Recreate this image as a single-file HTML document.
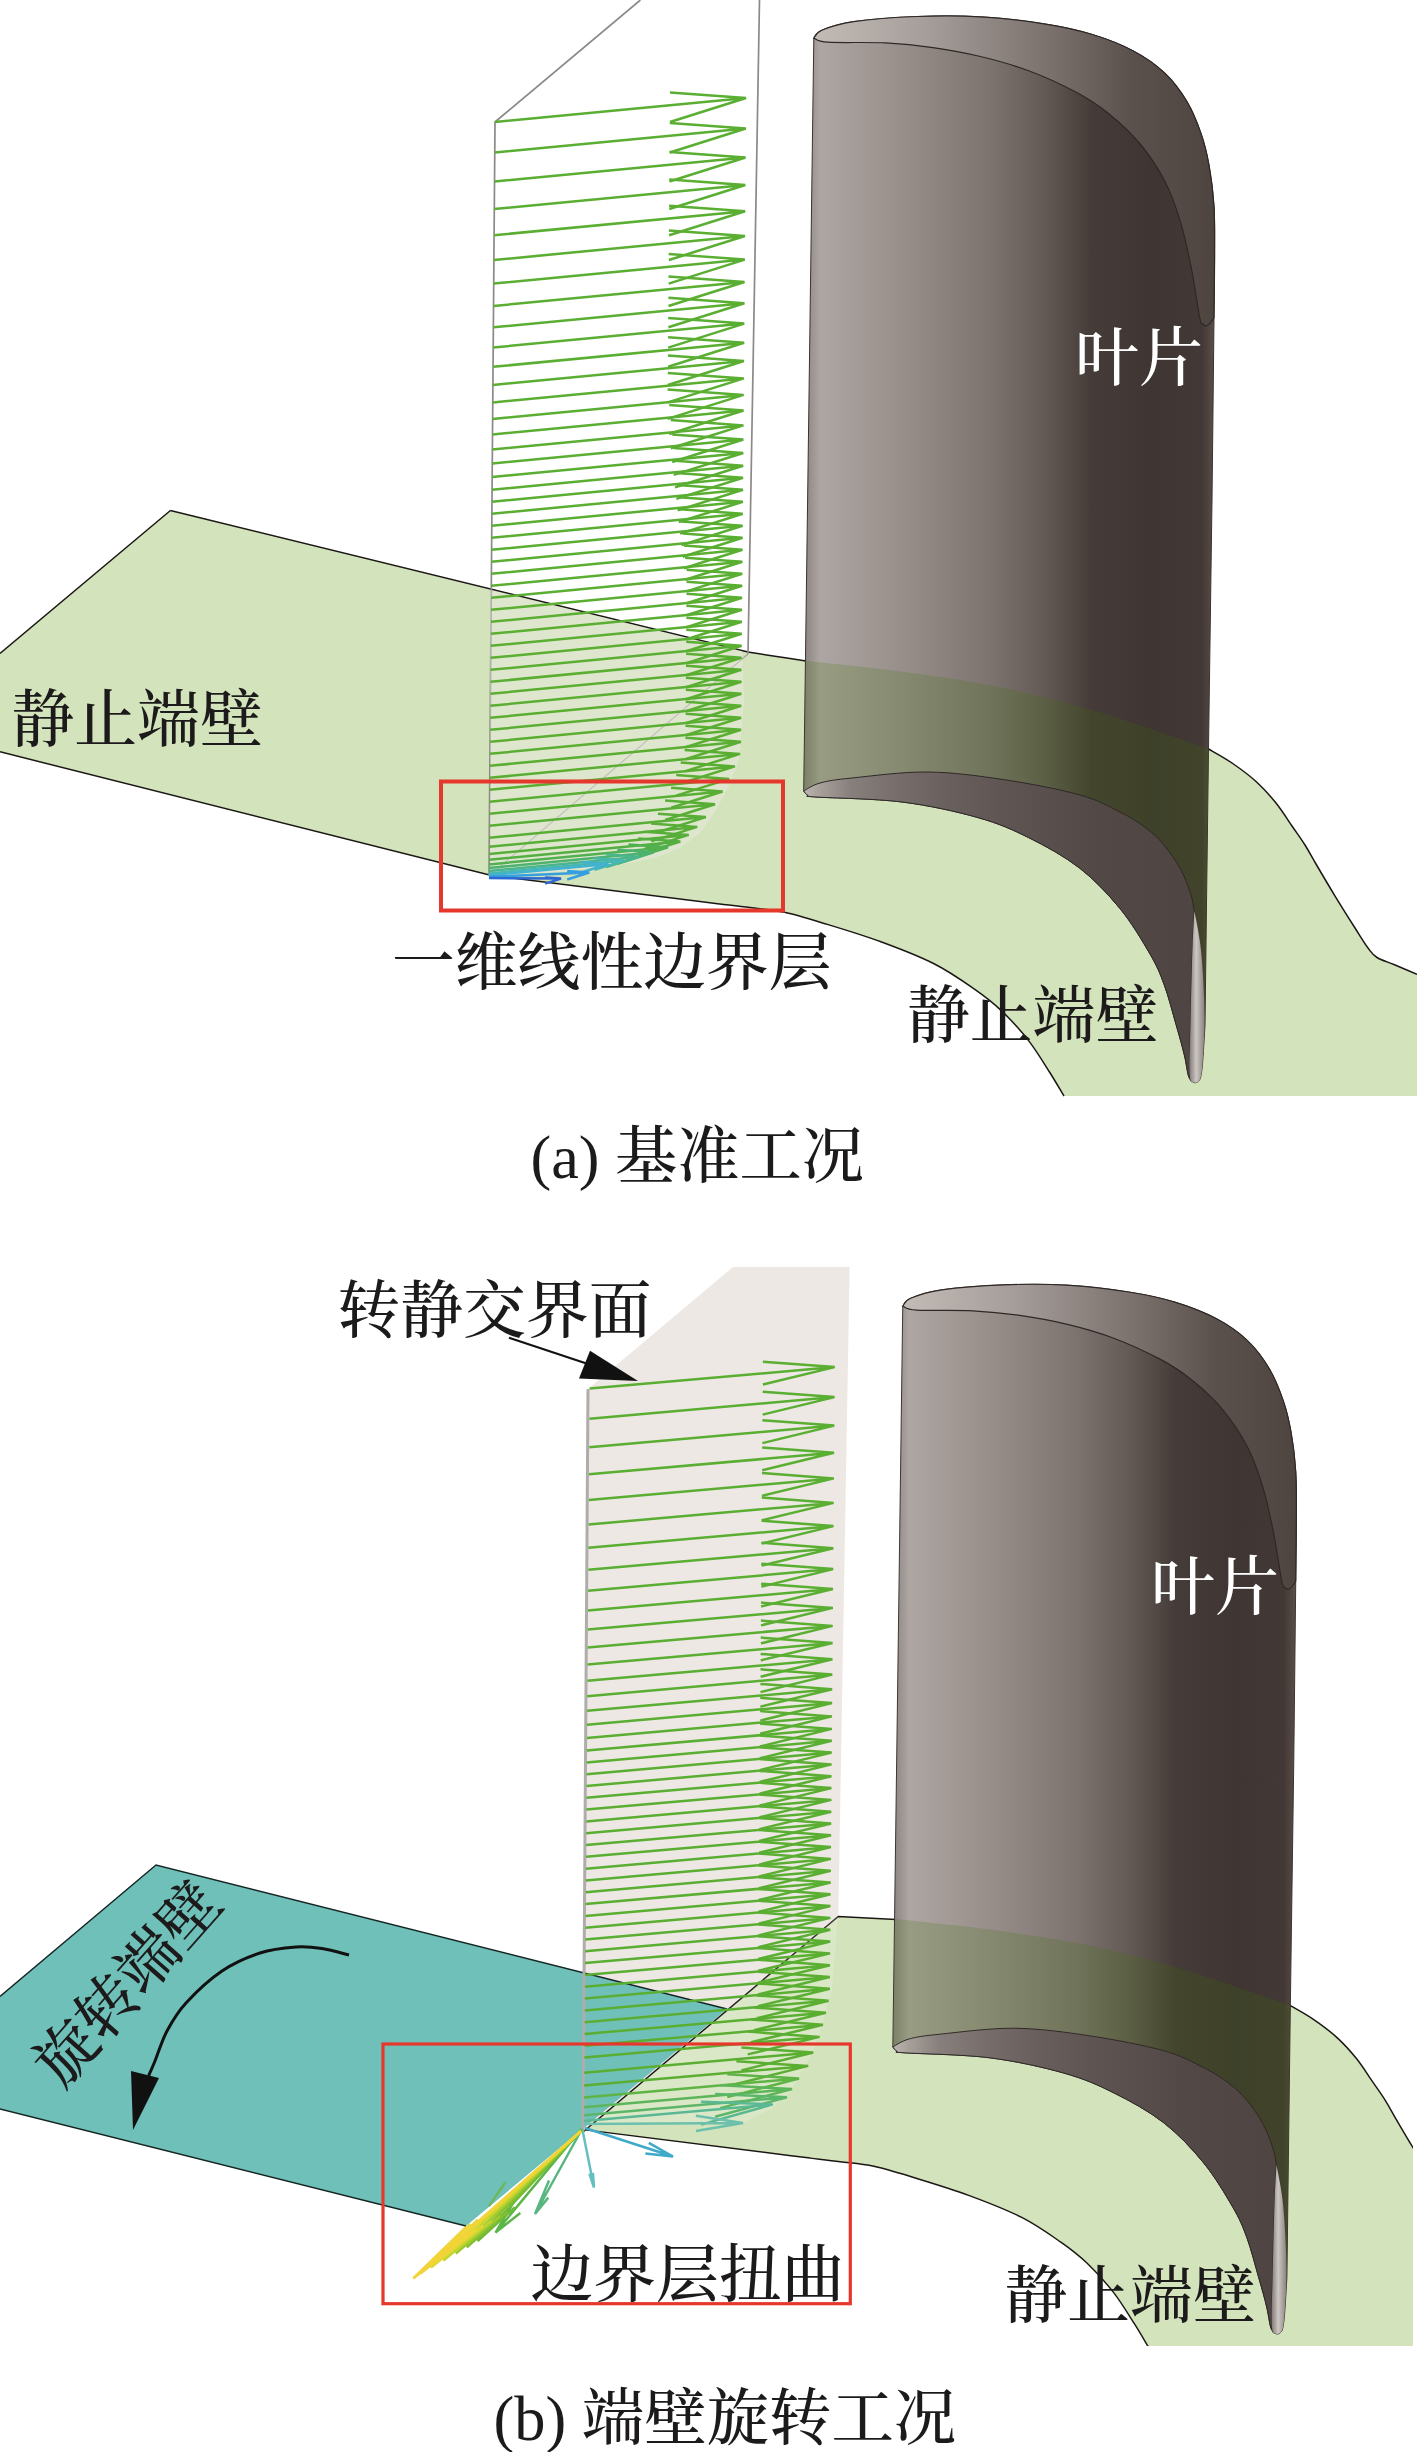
<!DOCTYPE html><html><head><meta charset="utf-8"><title>fig</title><style>html,body{margin:0;padding:0;background:#fff}svg{display:block}text{font-family:"Liberation Serif","Noto Serif CJK SC",serif;font-weight:500}</style></head><body>
<svg width="1417" height="2452" viewBox="0 0 1417 2452">
<defs><linearGradient id="gb" gradientUnits="userSpaceOnUse" x1="806" y1="0" x2="1214" y2="0"><stop offset="0" stop-color="#8e8783"/><stop offset="0.035" stop-color="#aea6a2"/><stop offset="0.25" stop-color="#968d89"/><stop offset="0.45" stop-color="#7d7470"/><stop offset="0.58" stop-color="#645b56"/><stop offset="0.70" stop-color="#453b38"/><stop offset="0.85" stop-color="#3f3533"/><stop offset="0.97" stop-color="#423835"/><stop offset="1" stop-color="#5a4f48"/></linearGradient>
<linearGradient id="gcap" gradientUnits="userSpaceOnUse" x1="806" y1="0" x2="1214" y2="0"><stop offset="0" stop-color="#c4bdb8"/><stop offset="0.3" stop-color="#a59d99"/><stop offset="0.6" stop-color="#7a716d"/><stop offset="0.8" stop-color="#5a504c"/><stop offset="1" stop-color="#4e4541"/></linearGradient>
<linearGradient id="glens" gradientUnits="userSpaceOnUse" x1="806" y1="0" x2="1214" y2="0"><stop offset="0" stop-color="#b8b1ad"/><stop offset="0.03" stop-color="#a8a19c"/><stop offset="0.11" stop-color="#877f7b"/><stop offset="0.23" stop-color="#766d6a"/><stop offset="0.35" stop-color="#69605d"/><stop offset="0.48" stop-color="#5f5653"/><stop offset="0.72" stop-color="#524845"/><stop offset="1" stop-color="#4e4441"/></linearGradient>
<linearGradient id="gte" gradientUnits="userSpaceOnUse" x1="1189" y1="0" x2="1205" y2="0"><stop offset="0" stop-color="#7d7571"/><stop offset="0.45" stop-color="#cdc7c4"/><stop offset="1" stop-color="#857d79"/></linearGradient>
<g id="blade">
<path d="M813.8 38.1C815.1 36.8 815.2 33.0 821.8 30.2 C828.4 27.4 837.6 23.9 853.5 21.6 C869.4 19.3 895.8 17.3 917.0 16.5 C938.2 15.7 959.3 15.6 980.5 16.8 C1001.7 18.0 1025.5 20.9 1044.0 23.8 C1062.5 26.7 1076.9 29.8 1091.7 34.3 C1106.5 38.8 1120.8 44.3 1133.0 50.8 C1145.2 57.2 1155.7 64.5 1164.7 73.0 C1173.7 81.5 1181.0 91.5 1187.0 101.6 C1193.0 111.7 1197.3 122.8 1201.0 133.4 C1204.7 144.0 1206.8 152.8 1209.0 165.0 C1211.2 177.2 1213.1 191.6 1214.0 206.4 C1214.9 221.2 1214.6 235.5 1214.6 254.0 C1214.6 272.5 1214.1 307.0 1214.0 317.6L1212.0 500.0 L1208.5 749.0 L1206.5 904.0 L1205.0 1025.4 C1204.6 1032.1 1203.2 1056.5 1202.4 1065.4 C1201.6 1074.3 1200.7 1076.5 1200.4 1078.7 Q1196.5 1085 1192.4 1081.7 C1191.7 1080.7 1189.7 1080.0 1188.4 1075.6 C1187.1 1071.2 1186.4 1063.7 1184.4 1055.3 C1182.4 1046.9 1179.7 1037.1 1176.3 1025.4 C1172.9 1013.7 1168.7 996.9 1164.3 985.0 C1159.9 973.1 1157.4 966.7 1150.0 954.0 C1142.6 941.3 1131.8 922.9 1120.0 908.6 C1108.2 894.3 1094.7 879.8 1079.5 868.0 C1064.3 856.2 1045.9 846.2 1029.0 837.8 C1012.1 829.4 999.2 823.6 978.0 817.6 C956.8 811.6 929.0 805.4 902.0 802.0 C875.0 798.6 831.7 798.1 816.0 797.0 C800.3 795.9 810.0 796.5 808.0 795.5 C806.0 794.5 804.4 791.8 803.7 791.0Z" fill="url(#gb)" stroke="#3a3330" stroke-width="1"/>
<path d="M813.8 38.1C815.1 36.8 815.2 33.0 821.8 30.2 C828.4 27.4 837.6 23.9 853.5 21.6 C869.4 19.3 895.8 17.3 917.0 16.5 C938.2 15.7 959.3 15.6 980.5 16.8 C1001.7 18.0 1025.5 20.9 1044.0 23.8 C1062.5 26.7 1076.9 29.8 1091.7 34.3 C1106.5 38.8 1120.8 44.3 1133.0 50.8 C1145.2 57.2 1155.7 64.5 1164.7 73.0 C1173.7 81.5 1181.0 91.5 1187.0 101.6 C1193.0 111.7 1197.3 122.8 1201.0 133.4 C1204.7 144.0 1206.8 152.8 1209.0 165.0 C1211.2 177.2 1213.1 191.6 1214.0 206.4 C1214.9 221.2 1214.6 235.5 1214.6 254.0 C1214.6 272.5 1214.1 307.0 1214.0 317.6L1212.5 320.0 Q1207 329 1202.8 324 C1202.3 322.9 1201.5 326.6 1199.7 317.6 C1197.9 308.6 1194.9 285.9 1191.7 270.0 C1188.5 254.1 1185.1 237.1 1180.6 222.3 C1176.1 207.5 1171.6 194.2 1164.7 181.0 C1157.8 167.8 1148.8 154.4 1139.3 143.0 C1129.8 131.6 1118.2 121.2 1107.6 112.7 C1097.0 104.2 1089.1 99.0 1075.8 92.0 C1062.5 85.0 1043.9 76.4 1028.0 70.5 C1012.1 64.6 996.3 60.3 980.5 56.5 C964.7 52.7 948.9 49.9 933.0 47.6 C917.1 45.3 902.8 43.8 885.3 42.9 C867.8 42.0 839.9 43.0 828.0 42.2 C816.1 41.4 816.2 38.8 813.8 38.1Z" fill="url(#gcap)" stroke="#2e2826" stroke-width="1.2"/>
<path d="M806.0 661.0C822.5 662.8 872.0 667.5 905.0 672.0 C938.0 676.5 970.7 681.0 1004.0 688.0 C1037.3 695.0 1070.9 703.8 1105.0 714.0 C1139.1 724.2 1191.2 743.2 1208.5 749.0L1206.5 904.0L1205.0 1025.4 C1204.3 1018.7 1204.2 998.4 1203.5 985.0 C1202.8 971.6 1201.9 957.3 1200.4 945.0 C1198.9 932.7 1195.4 916.7 1194.4 911.0 C1193.7 908.0 1192.7 899.9 1190.4 892.9 C1188.1 885.9 1184.8 876.7 1180.4 868.8 C1176.1 860.9 1170.0 852.3 1164.3 845.5 C1158.6 838.7 1153.4 833.6 1146.0 828.0 C1138.6 822.4 1131.1 817.5 1120.0 812.0 C1108.9 806.5 1098.9 800.2 1079.5 794.8 C1060.1 789.4 1028.9 783.4 1003.6 779.6 C978.3 775.8 953.0 772.3 927.7 772.0 C902.4 771.7 870.0 776.2 852.0 778.0 C834.0 779.8 828.0 780.8 820.0 783.0 C812.0 785.2 806.4 789.7 803.7 791.0Z" fill="#3e7600" fill-opacity="0.195"/>
<path d="M803.7 791.0C806.4 789.7 812.0 785.2 820.0 783.0 C828.0 780.8 834.0 779.8 852.0 778.0 C870.0 776.2 902.4 771.7 927.7 772.0 C953.0 772.3 978.3 775.8 1003.6 779.6 C1028.9 783.4 1060.1 789.4 1079.5 794.8 C1098.9 800.2 1108.9 806.5 1120.0 812.0 C1131.1 817.5 1138.6 822.4 1146.0 828.0 C1153.4 833.6 1158.6 838.7 1164.3 845.5 C1170.0 852.3 1176.1 860.9 1180.4 868.8 C1184.8 876.7 1188.1 885.9 1190.4 892.9 C1192.7 899.9 1193.7 908.0 1194.4 911.0 C1194.1 916.7 1193.1 932.7 1192.6 945.0 C1192.1 957.3 1191.8 971.6 1191.4 985.0 C1191.0 998.4 1190.7 1012.0 1190.4 1025.4 C1190.1 1038.8 1189.4 1056.4 1189.4 1065.4 C1189.4 1074.5 1189.9 1077.0 1190.4 1079.7 C1190.9 1082.4 1192.1 1081.4 1192.4 1081.7 C1191.7 1080.7 1189.7 1080.0 1188.4 1075.6 C1187.1 1071.2 1186.4 1063.7 1184.4 1055.3 C1182.4 1046.9 1179.7 1037.1 1176.3 1025.4 C1172.9 1013.7 1168.7 996.9 1164.3 985.0 C1159.9 973.1 1157.4 966.7 1150.0 954.0 C1142.6 941.3 1131.8 922.9 1120.0 908.6 C1108.2 894.3 1094.7 879.8 1079.5 868.0 C1064.3 856.2 1045.9 846.2 1029.0 837.8 C1012.1 829.4 999.2 823.6 978.0 817.6 C956.8 811.6 929.0 805.4 902.0 802.0 C875.0 798.6 831.7 798.1 816.0 797.0 C800.3 795.9 810.0 796.5 808.0 795.5 C806.0 794.5 804.4 791.8 803.7 791.0Z" fill="url(#glens)" stroke="#2e2826" stroke-width="1"/>
<path d="M1194.4 911.0C1195.4 916.7 1198.9 932.7 1200.4 945.0 C1201.9 957.3 1202.8 971.6 1203.5 985.0 C1204.2 998.4 1204.7 1012.0 1204.5 1025.4 C1204.3 1038.8 1203.1 1056.5 1202.4 1065.4 C1201.7 1074.3 1200.7 1076.5 1200.4 1078.7 Q1196.5 1085 1192.4 1081.7 C1192.1 1081.4 1190.9 1082.4 1190.4 1079.7 C1189.9 1077.0 1189.4 1074.5 1189.4 1065.4 C1189.4 1056.4 1190.1 1038.8 1190.4 1025.4 C1190.7 1012.0 1191.0 998.4 1191.4 985.0 C1191.8 971.6 1192.1 957.3 1192.6 945.0 C1193.1 932.7 1194.1 916.7 1194.4 911.0Z" fill="url(#gte)"/>
</g></defs>
<rect width="1417" height="2452" fill="#fff"/>
<path d="M170.4 510.5L748.0 652.0 C753.3 652.8 770.3 655.5 780.0 657.0 C789.7 658.5 801.7 660.3 806.0 661.0 C822.5 662.8 872.0 667.5 905.0 672.0 C938.0 676.5 970.7 681.0 1004.0 688.0 C1037.3 695.0 1070.9 703.8 1105.0 714.0 C1139.1 724.2 1191.2 743.2 1208.5 749.0 C1212.4 751.3 1224.0 757.5 1232.0 763.0 C1240.0 768.5 1249.3 775.3 1256.6 782.0 C1263.9 788.7 1270.1 795.7 1276.0 803.0 C1281.9 810.3 1287.2 819.0 1292.0 826.0 C1296.8 833.0 1301.0 838.7 1305.0 845.0 C1309.0 851.3 1311.1 855.6 1316.0 864.0 C1320.9 872.4 1328.2 884.8 1334.6 895.3 C1341.0 905.8 1348.8 918.2 1354.4 927.0 C1360.0 935.8 1364.2 942.9 1368.0 948.0 C1371.8 953.1 1372.7 954.8 1377.0 957.5 C1381.3 960.2 1387.2 961.7 1393.9 964.5 C1400.6 967.3 1413.2 972.8 1417.0 974.4L1500.0 1000.0L1500.0 1096.0L1063.3 1096.0 C1061.6 1092.1 1055.7 1081.8 1049.8 1072.5 C1043.9 1063.2 1036.4 1050.7 1028.4 1040.4 C1020.4 1030.1 1010.5 1019.4 1001.6 1010.9 C992.7 1002.4 986.0 997.2 974.8 989.4 C963.6 981.6 950.1 971.9 934.5 964.0 C918.9 956.1 898.8 948.4 880.9 941.8 C863.0 935.2 843.4 929.3 827.3 924.4 C811.2 919.5 797.3 915.1 784.4 912.3 C771.5 909.5 760.7 909.0 750.0 907.6 C739.3 906.2 728.3 905.0 720.0 904.0 C711.7 903.0 703.3 901.9 700.0 901.5L490.5 875.3L0.0 751.8L0.0 653.4Z" fill="#d3e3bb"/>
<path d="M170.4 510.5L748.0 652.0 C753.3 652.8 770.3 655.5 780.0 657.0 C789.7 658.5 801.7 660.3 806.0 661.0 C822.5 662.8 872.0 667.5 905.0 672.0 C938.0 676.5 970.7 681.0 1004.0 688.0 C1037.3 695.0 1070.9 703.8 1105.0 714.0 C1139.1 724.2 1191.2 743.2 1208.5 749.0 C1212.4 751.3 1224.0 757.5 1232.0 763.0 C1240.0 768.5 1249.3 775.3 1256.6 782.0 C1263.9 788.7 1270.1 795.7 1276.0 803.0 C1281.9 810.3 1287.2 819.0 1292.0 826.0 C1296.8 833.0 1301.0 838.7 1305.0 845.0 C1309.0 851.3 1311.1 855.6 1316.0 864.0 C1320.9 872.4 1328.2 884.8 1334.6 895.3 C1341.0 905.8 1348.8 918.2 1354.4 927.0 C1360.0 935.8 1364.2 942.9 1368.0 948.0 C1371.8 953.1 1372.7 954.8 1377.0 957.5 C1381.3 960.2 1387.2 961.7 1393.9 964.5 C1400.6 967.3 1413.2 972.8 1417.0 974.4 M0.0 751.8L490.5 875.3L700.0 901.5 C703.3 901.9 711.7 903.0 720.0 904.0 C728.3 905.0 739.3 906.2 750.0 907.6 C760.7 909.0 771.5 909.5 784.4 912.3 C797.3 915.1 811.2 919.5 827.3 924.4 C843.4 929.3 863.0 935.2 880.9 941.8 C898.8 948.4 918.9 956.1 934.5 964.0 C950.1 971.9 963.6 981.6 974.8 989.4 C986.0 997.2 992.7 1002.4 1001.6 1010.9 C1010.5 1019.4 1020.4 1030.1 1028.4 1040.4 C1036.4 1050.7 1043.9 1063.2 1049.8 1072.5 C1055.7 1081.8 1061.6 1092.1 1064.0 1096.0 M0 653.4 L170.4 510.5" fill="none" stroke="#1a1714" stroke-width="1.5"/>
<path d="M489 876 L495 122 L640.4 0 M759.5 0 L748 654" fill="none" stroke="#8e8888" stroke-width="1.7"/><path d="M748 654 L489 876" fill="none" stroke="#a89ea6" stroke-width="1.2"/>
<path d="M490 590 L742 651 L744 700 L739 760 L727 790 L715 812 L701 832 L680 848 L655 858 L612 866 L556 872 L490 877Z" fill="#f1ede9" fill-opacity="0.4"/>
<g fill="none" stroke-width="2.5" stroke-linejoin="miter" stroke-linecap="butt">
<path d="M495.0 122.0 L746.0 98.0 M670.0 92.5 L746.0 98.0 L670.0 122.0" stroke="#5aae32"/>
<path d="M494.8 152.5 L745.8 128.5 M669.8 123.0 L745.8 128.5 L669.8 152.5" stroke="#5aae32"/>
<path d="M494.5 181.5 L745.5 157.5 M669.5 152.0 L745.5 157.5 L669.5 181.5" stroke="#5aae32"/>
<path d="M494.3 209.0 L745.3 185.0 M669.3 179.5 L745.3 185.0 L669.3 209.0" stroke="#5aae32"/>
<path d="M494.1 235.2 L745.1 211.2 M669.1 205.7 L745.1 211.2 L669.1 235.2" stroke="#5aae32"/>
<path d="M493.9 260.0 L744.9 236.0 M668.9 230.5 L744.9 236.0 L668.9 260.0" stroke="#5aae32"/>
<path d="M493.7 283.6 L744.7 259.6 M668.7 254.1 L744.7 259.6 L668.7 283.6" stroke="#5aae32"/>
<path d="M493.5 306.0 L744.5 282.0 M668.5 276.5 L744.5 282.0 L668.5 306.0" stroke="#5aae32"/>
<path d="M493.4 327.3 L744.4 303.3 M668.4 297.8 L744.4 303.3 L668.4 327.3" stroke="#5aae32"/>
<path d="M493.2 347.5 L744.2 323.6 M668.2 318.1 L744.2 323.6 L668.2 347.6" stroke="#5aae32"/>
<path d="M493.1 366.8 L744.1 342.8 M668.1 337.3 L744.1 342.8 L668.1 366.8" stroke="#5aae32"/>
<path d="M492.9 385.0 L743.9 361.0 M667.9 355.5 L743.9 361.0 L667.9 385.0" stroke="#5aae32"/>
<path d="M492.8 402.4 L743.8 378.4 M667.8 372.9 L743.8 378.4 L667.8 402.4" stroke="#5aae32"/>
<path d="M492.6 418.9 L743.6 394.9 M667.6 389.4 L743.6 394.9 L667.6 418.9" stroke="#5aae32"/>
<path d="M492.5 434.5 L743.5 410.5 M669.2 405.1 L743.5 410.5 L669.2 434.0" stroke="#5aae32"/>
<path d="M492.4 449.4 L743.4 425.4 M670.7 420.1 L743.4 425.4 L670.7 448.3" stroke="#5aae32"/>
<path d="M492.3 463.5 L743.3 439.5 M672.2 434.4 L743.3 439.5 L672.2 462.0" stroke="#5aae32"/>
<path d="M492.2 476.9 L743.2 453.0 M673.7 447.9 L743.2 453.0 L673.7 474.9" stroke="#5aae32"/>
<path d="M492.1 489.7 L743.1 465.7 M675.0 460.8 L743.1 465.7 L675.0 487.2" stroke="#5aae32"/>
<path d="M492.0 501.8 L743.0 477.8 M676.3 473.0 L743.0 477.8 L676.3 498.9" stroke="#5aae32"/>
<path d="M491.9 513.8 L742.9 489.8 M677.6 485.1 L742.9 489.8 L677.6 510.4" stroke="#5aae32"/>
<path d="M491.8 525.8 L742.8 501.8 M678.8 497.2 L742.8 501.8 L678.8 522.0" stroke="#5aae32"/>
<path d="M491.7 537.8 L742.7 513.8 M680.1 509.3 L742.7 513.8 L680.1 533.6" stroke="#5aae32"/>
<path d="M491.6 549.8 L742.6 525.8 M681.4 521.4 L742.6 525.8 L681.4 545.1" stroke="#5aae32"/>
<path d="M491.5 561.8 L742.5 537.8 M682.7 533.5 L742.5 537.8 L682.7 556.7" stroke="#5aae32"/>
<path d="M491.4 573.8 L742.4 549.8 M683.9 545.6 L742.4 549.8 L683.9 568.3" stroke="#5aae32"/>
<path d="M491.3 585.8 L742.3 561.8 M685.2 557.7 L742.3 561.8 L685.2 579.8" stroke="#5aae32"/>
<path d="M491.2 597.8 L742.2 573.8 M686.5 569.8 L742.2 573.8 L686.5 591.4" stroke="#5aae32"/>
<path d="M491.1 609.8 L742.1 585.8 M686.6 581.8 L742.1 585.8 L686.6 603.3" stroke="#5aae32"/>
<path d="M491.0 621.8 L742.0 597.8 M686.5 593.8 L742.0 597.8 L686.5 615.3" stroke="#5aae32"/>
<path d="M490.9 633.8 L741.9 609.8 M686.4 605.8 L741.9 609.8 L686.4 627.3" stroke="#5aae32"/>
<path d="M490.8 645.8 L741.8 621.8 M686.4 617.8 L741.8 621.8 L686.4 639.3" stroke="#5aae32"/>
<path d="M490.7 657.8 L741.7 633.8 M686.3 629.8 L741.7 633.8 L686.3 651.3" stroke="#5aae32"/>
<path d="M490.6 669.8 L741.6 645.8 M686.2 641.8 L741.6 645.8 L686.2 663.3" stroke="#5aae32"/>
<path d="M490.5 681.8 L741.5 657.8 M686.1 653.8 L741.5 657.8 L686.1 675.3" stroke="#5aae32"/>
<path d="M490.4 693.8 L741.4 669.8 M686.0 665.8 L741.4 669.8 L686.0 687.3" stroke="#5aae32"/>
<path d="M490.4 705.8 L741.4 681.8 M685.9 677.8 L741.4 681.8 L685.9 699.3" stroke="#5aae32"/>
<path d="M490.3 717.8 L741.3 693.8 M685.8 689.8 L741.3 693.8 L685.8 711.3" stroke="#5aae32"/>
<path d="M490.2 729.8 L741.2 705.8 M685.7 701.8 L741.2 705.8 L685.7 723.3" stroke="#5aae32"/>
<path d="M490.1 741.8 L741.1 717.8 M685.6 713.8 L741.1 717.8 L685.6 735.3" stroke="#5aae32"/>
<path d="M490.0 753.8 L741.0 729.8 M685.5 725.8 L741.0 729.8 L685.5 747.3" stroke="#5aae32"/>
<path d="M489.9 765.8 L740.9 741.8 M685.4 737.8 L740.9 741.8 L685.4 759.3" stroke="#5aae32"/>
<path d="M489.8 777.8 L740.0 753.9 M684.7 749.9 L740.0 753.9 L684.7 771.4" stroke="#59ae32"/>
<path d="M489.7 789.8 L734.9 766.4 M680.7 762.5 L734.9 766.4 L680.7 783.5" stroke="#59ae32"/>
<path d="M489.6 801.8 L729.2 778.9 M676.2 775.1 L729.2 778.9 L676.2 795.6" stroke="#59ae33"/>
<path d="M489.5 813.8 L722.6 791.5 M671.1 787.8 L722.6 791.5 L671.1 807.8" stroke="#59ae34"/>
<path d="M489.4 825.8 L715.0 804.2 M665.1 800.6 L715.0 804.2 L665.1 820.0" stroke="#58ae35"/>
<path d="M489.3 837.8 L705.8 817.1 M657.9 813.7 L705.8 817.1 L657.9 832.2" stroke="#58ae36"/>
<path d="M489.2 846.8 L697.2 826.9 M651.2 823.6 L697.2 826.9 L651.2 841.4" stroke="#58ae37"/>
<path d="M489.2 854.0 L688.7 834.9 M644.6 831.7 L688.7 834.9 L644.6 848.9" stroke="#57ae39"/>
<path d="M489.1 859.8 L680.3 841.5 M638.1 838.4 L680.3 841.5 L638.1 854.8" stroke="#54af43"/>
<path d="M489.1 864.4 L668.0 847.3 M628.4 844.4 L668.0 847.3 L628.4 859.8" stroke="#51b151"/>
<path d="M489.1 868.1 L653.7 852.3 M617.3 849.7 L653.7 852.3 L617.3 863.8" stroke="#4db26d"/>
<path d="M489.0 871.0 L639.3 856.7 M606.1 854.3 L639.3 856.7 L606.1 867.1" stroke="#4ab48c"/>
<path d="M489.0 873.4 L624.4 860.4 M594.5 858.3 L624.4 860.4 L594.5 869.9" stroke="#47b7b0"/>
<path d="M489.0 875.3 L608.3 863.9 M581.9 862.0 L608.3 863.9 L581.9 872.2" stroke="#42b2ce"/>
<path d="M489.0 876.8 L589.3 872.5 M567.2 870.9 L589.3 872.5 L567.2 879.5" stroke="#369fe0"/>
<path d="M489.0 878.0 L561.0 878.6 M545.1 877.4 L561.0 878.6 L545.1 883.6" stroke="#2d67d1"/>
</g>
<use href="#blade"/>
<rect x="441" y="781.5" width="342" height="129" fill="none" stroke="#e6372c" stroke-width="4"/>
<text x="1075.0" y="380.0" font-size="64" fill="#ffffff">叶片</text>
<text x="11.5" y="741.0" font-size="62.8" fill="#1c1a1a">静止端壁</text>
<text x="392.0" y="984.0" font-size="62.8" fill="#1c1a1a">一维线性边界层</text>
<text x="907.0" y="1037.0" font-size="62.8" fill="#1c1a1a">静止端壁</text>
<text x="530.5" y="1178.0" font-size="62.2" fill="#1c1a1a">(a) 基准工况</text>
<path d="M733 1267 L849.6 1267 L838.3 1916.4 L583 2132 L588 1389Z" fill="#ede8e3"/>
<clipPath id="cpb"><path d="M838.3 1916.4 L896 1919.6 L896 1800 L1413 1800 L1413 2346 L331 2346 Z"/></clipPath>
<g clip-path="url(#cpb)"><g transform="translate(103.6,1268.6) scale(0.982,0.984)"><path d="M170.4 510.5L748.0 652.0 C753.3 652.8 770.3 655.5 780.0 657.0 C789.7 658.5 801.7 660.3 806.0 661.0 C822.5 662.8 872.0 667.5 905.0 672.0 C938.0 676.5 970.7 681.0 1004.0 688.0 C1037.3 695.0 1070.9 703.8 1105.0 714.0 C1139.1 724.2 1191.2 743.2 1208.5 749.0 C1212.4 751.3 1224.0 757.5 1232.0 763.0 C1240.0 768.5 1249.3 775.3 1256.6 782.0 C1263.9 788.7 1270.1 795.7 1276.0 803.0 C1281.9 810.3 1287.2 819.0 1292.0 826.0 C1296.8 833.0 1301.0 838.7 1305.0 845.0 C1309.0 851.3 1311.1 855.6 1316.0 864.0 C1320.9 872.4 1328.2 884.8 1334.6 895.3 C1341.0 905.8 1348.8 918.2 1354.4 927.0 C1360.0 935.8 1364.2 942.9 1368.0 948.0 C1371.8 953.1 1372.7 954.8 1377.0 957.5 C1381.3 960.2 1387.2 961.7 1393.9 964.5 C1400.6 967.3 1413.2 972.8 1417.0 974.4L1500.0 1000.0L1500.0 1096.0L1063.3 1096.0 C1061.6 1092.1 1055.7 1081.8 1049.8 1072.5 C1043.9 1063.2 1036.4 1050.7 1028.4 1040.4 C1020.4 1030.1 1010.5 1019.4 1001.6 1010.9 C992.7 1002.4 986.0 997.2 974.8 989.4 C963.6 981.6 950.1 971.9 934.5 964.0 C918.9 956.1 898.8 948.4 880.9 941.8 C863.0 935.2 843.4 929.3 827.3 924.4 C811.2 919.5 797.3 915.1 784.4 912.3 C771.5 909.5 760.7 909.0 750.0 907.6 C739.3 906.2 728.3 905.0 720.0 904.0 C711.7 903.0 703.3 901.9 700.0 901.5L490.5 875.3L0.0 751.8L0.0 653.4Z" fill="#d3e3bb"/><path d="M170.4 510.5L748.0 652.0 C753.3 652.8 770.3 655.5 780.0 657.0 C789.7 658.5 801.7 660.3 806.0 661.0 C822.5 662.8 872.0 667.5 905.0 672.0 C938.0 676.5 970.7 681.0 1004.0 688.0 C1037.3 695.0 1070.9 703.8 1105.0 714.0 C1139.1 724.2 1191.2 743.2 1208.5 749.0 C1212.4 751.3 1224.0 757.5 1232.0 763.0 C1240.0 768.5 1249.3 775.3 1256.6 782.0 C1263.9 788.7 1270.1 795.7 1276.0 803.0 C1281.9 810.3 1287.2 819.0 1292.0 826.0 C1296.8 833.0 1301.0 838.7 1305.0 845.0 C1309.0 851.3 1311.1 855.6 1316.0 864.0 C1320.9 872.4 1328.2 884.8 1334.6 895.3 C1341.0 905.8 1348.8 918.2 1354.4 927.0 C1360.0 935.8 1364.2 942.9 1368.0 948.0 C1371.8 953.1 1372.7 954.8 1377.0 957.5 C1381.3 960.2 1387.2 961.7 1393.9 964.5 C1400.6 967.3 1413.2 972.8 1417.0 974.4 M0.0 751.8L490.5 875.3L700.0 901.5 C703.3 901.9 711.7 903.0 720.0 904.0 C728.3 905.0 739.3 906.2 750.0 907.6 C760.7 909.0 771.5 909.5 784.4 912.3 C797.3 915.1 811.2 919.5 827.3 924.4 C843.4 929.3 863.0 935.2 880.9 941.8 C898.8 948.4 918.9 956.1 934.5 964.0 C950.1 971.9 963.6 981.6 974.8 989.4 C986.0 997.2 992.7 1002.4 1001.6 1010.9 C1010.5 1019.4 1020.4 1030.1 1028.4 1040.4 C1036.4 1050.7 1043.9 1063.2 1049.8 1072.5 C1055.7 1081.8 1061.6 1092.1 1064.0 1096.0 M0 653.4 L170.4 510.5" fill="none" stroke="#1a1714" stroke-width="1.5"/></g></g>
<path d="M156 1865 L727 2009 L466 2226 L0 2109 L0 1996.5Z" fill="#70c0ba"/><path d="M0 1996.5 L156 1865 L727 2009 M466 2226 L0 2109" fill="none" stroke="#152524" stroke-width="1.4"/>
<path d="M896 1919.6 L838.3 1916.4 L583 2132" stroke="#1a1714" stroke-width="1.5" fill="none"/>
<path d="M588 1389 L583 2131" stroke="#b0acac" stroke-width="3" fill="none"/>
<path d="M838 1916 L832 1990 L826 2010 L819 2036 L811 2055 L800 2075 L790 2091 L774 2107 L743 2123 L592 2126Z" fill="#fff" fill-opacity="0.18"/>
<g fill="none" stroke-width="2.5" stroke-linejoin="miter" stroke-linecap="butt">
<path d="M589.7 1388.6 L834.7 1367.1 M762.9 1361.8 L834.7 1367.1 L762.9 1384.5" stroke="#5aae32"/>
<path d="M589.5 1418.7 L834.5 1397.1 M762.7 1391.8 L834.5 1397.1 L762.7 1414.6" stroke="#5aae32"/>
<path d="M589.2 1447.2 L834.2 1425.6 M762.4 1420.3 L834.2 1425.6 L762.4 1443.1" stroke="#5aae32"/>
<path d="M589.0 1474.3 L834.0 1452.7 M762.2 1447.4 L834.0 1452.7 L762.2 1470.2" stroke="#5aae32"/>
<path d="M588.8 1500.0 L833.8 1478.4 M762.0 1473.1 L833.8 1478.4 L762.0 1495.9" stroke="#5aae32"/>
<path d="M588.6 1524.4 L833.6 1502.9 M761.8 1497.5 L833.6 1502.9 L761.8 1520.3" stroke="#5aae32"/>
<path d="M588.4 1547.7 L833.4 1526.1 M761.6 1520.8 L833.4 1526.1 L761.6 1543.6" stroke="#5aae32"/>
<path d="M588.3 1569.7 L833.3 1548.2 M761.5 1542.8 L833.3 1548.2 L761.5 1565.6" stroke="#5aae32"/>
<path d="M588.1 1590.7 L833.1 1569.1 M761.3 1563.8 L833.1 1569.1 L761.3 1586.6" stroke="#5aae32"/>
<path d="M587.9 1610.6 L832.9 1589.0 M761.1 1583.7 L832.9 1589.0 L761.1 1606.5" stroke="#5aae32"/>
<path d="M587.8 1629.5 L832.8 1607.9 M761.0 1602.6 L832.8 1607.9 L761.0 1625.4" stroke="#5aae32"/>
<path d="M587.6 1647.5 L832.6 1625.9 M760.9 1620.6 L832.6 1625.9 L760.9 1643.4" stroke="#5aae32"/>
<path d="M587.5 1664.5 L832.5 1643.0 M760.7 1637.6 L832.5 1643.0 L760.7 1660.4" stroke="#5aae32"/>
<path d="M587.4 1680.8 L832.4 1659.2 M760.6 1653.9 L832.4 1659.2 L760.6 1676.7" stroke="#5aae32"/>
<path d="M587.2 1696.2 L832.2 1674.6 M760.5 1669.3 L832.2 1674.6 L760.5 1692.1" stroke="#5aae32"/>
<path d="M587.1 1710.8 L832.1 1689.2 M760.4 1683.9 L832.1 1689.2 L760.4 1706.7" stroke="#5aae32"/>
<path d="M587.0 1724.7 L832.0 1703.1 M760.2 1697.8 L832.0 1703.1 L760.2 1720.6" stroke="#5aae32"/>
<path d="M586.9 1737.9 L831.9 1716.4 M760.1 1711.0 L831.9 1716.4 L760.1 1733.8" stroke="#5aae32"/>
<path d="M586.8 1750.5 L831.8 1728.9 M760.0 1723.6 L831.8 1728.9 L760.0 1746.4" stroke="#5aae32"/>
<path d="M586.7 1762.4 L831.7 1740.8 M759.9 1735.5 L831.7 1740.8 L759.9 1758.3" stroke="#5aae32"/>
<path d="M586.6 1774.2 L831.6 1752.6 M759.8 1747.3 L831.6 1752.6 L759.8 1770.1" stroke="#5aae32"/>
<path d="M586.5 1786.0 L831.5 1764.4 M759.8 1759.1 L831.5 1764.4 L759.8 1781.9" stroke="#5aae32"/>
<path d="M586.4 1797.8 L831.4 1776.2 M759.7 1770.9 L831.4 1776.2 L759.7 1793.7" stroke="#5aae32"/>
<path d="M586.3 1809.6 L831.3 1788.1 M759.6 1782.7 L831.3 1788.1 L759.6 1805.5" stroke="#5aae32"/>
<path d="M586.3 1821.4 L831.3 1799.9 M759.5 1794.5 L831.3 1799.9 L759.5 1817.3" stroke="#5aae32"/>
<path d="M586.2 1833.2 L831.2 1811.7 M759.4 1806.3 L831.2 1811.7 L759.4 1829.1" stroke="#5aae32"/>
<path d="M586.1 1845.0 L831.1 1823.5 M759.3 1818.1 L831.1 1823.5 L759.3 1840.9" stroke="#5aae32"/>
<path d="M586.0 1856.8 L831.0 1835.3 M759.2 1830.0 L831.0 1835.3 L759.2 1852.7" stroke="#5aae32"/>
<path d="M585.9 1868.7 L830.9 1847.1 M759.1 1841.8 L830.9 1847.1 L759.1 1864.6" stroke="#5aae32"/>
<path d="M585.8 1880.5 L830.8 1858.9 M759.0 1853.6 L830.8 1858.9 L759.0 1876.4" stroke="#5aae32"/>
<path d="M585.7 1892.3 L830.7 1870.7 M758.9 1865.4 L830.7 1870.7 L758.9 1888.2" stroke="#5aae32"/>
<path d="M585.6 1904.1 L830.6 1882.5 M758.8 1877.2 L830.6 1882.5 L758.8 1900.0" stroke="#5aae32"/>
<path d="M585.5 1915.9 L830.5 1894.3 M758.7 1889.0 L830.5 1894.3 L758.7 1911.8" stroke="#5aae32"/>
<path d="M585.4 1927.7 L830.4 1906.1 M758.6 1900.8 L830.4 1906.1 L758.6 1923.6" stroke="#5aae32"/>
<path d="M585.3 1939.5 L830.3 1917.9 M758.5 1912.6 L830.3 1917.9 L758.5 1935.4" stroke="#5aae32"/>
<path d="M585.2 1951.3 L830.2 1929.8 M758.4 1924.4 L830.2 1929.8 L758.4 1947.2" stroke="#5aae32"/>
<path d="M585.1 1963.1 L830.1 1941.6 M758.3 1936.2 L830.1 1941.6 L758.3 1959.0" stroke="#5aae32"/>
<path d="M585.0 1974.9 L830.0 1953.4 M758.3 1948.0 L830.0 1953.4 L758.3 1970.8" stroke="#5aae32"/>
<path d="M584.9 1986.7 L829.9 1965.2 M758.2 1959.8 L829.9 1965.2 L758.2 1982.6" stroke="#5aae32"/>
<path d="M584.8 1998.5 L829.8 1977.0 M758.1 1971.7 L829.8 1977.0 L758.1 1994.4" stroke="#5aae32"/>
<path d="M584.8 2010.4 L829.8 1988.8 M758.0 1983.5 L829.8 1988.8 L758.0 2006.3" stroke="#5aae32"/>
<path d="M584.7 2022.2 L828.6 2000.7 M756.8 1995.4 L828.6 2000.7 L756.8 2018.2" stroke="#5aae32"/>
<path d="M584.6 2034.0 L825.9 2012.7 M754.1 2007.4 L825.9 2012.7 L754.1 2030.2" stroke="#5aae32"/>
<path d="M584.5 2045.8 L822.9 2024.8 M751.1 2019.5 L822.9 2024.8 L751.1 2042.3" stroke="#5aae32"/>
<path d="M584.4 2057.6 L819.5 2036.9 M747.7 2031.6 L819.5 2036.9 L747.7 2054.4" stroke="#5aae32"/>
<path d="M584.2 2072.7 L813.2 2052.5 M741.5 2047.6 L813.2 2052.5 L741.5 2070.4" stroke="#5aae32"/>
<path d="M584.1 2085.6 L808.1 2065.9 M736.4 2061.2 L808.1 2065.9 L736.4 2084.0" stroke="#5aae32"/>
<path d="M584.0 2097.4 L799.0 2078.5 M727.3 2074.3 L799.0 2078.5 L727.3 2097.1" stroke="#5eb444"/>
<path d="M584.0 2107.3 L792.0 2089.0 M720.2 2085.3 L792.0 2089.0 L720.2 2108.1" stroke="#5db55a"/>
<path d="M583.9 2115.2 L786.9 2097.3 M715.1 2093.9 L786.9 2097.3 L715.1 2116.7" stroke="#5cb669"/>
<path d="M583.9 2121.0 L772.9 2104.4 M701.1 2101.8 L772.9 2104.4 L701.1 2124.6" stroke="#5ab994"/>
<path d="M584.0 2124.0 L743.0 2123.0 M696.0 2130.9 L743.0 2123.0 L695.9 2115.7" stroke="#6cc0ac"/>
<path d="M585.0 2128.0 L673.0 2156.5 M645.4 2153.4 L673.0 2156.5 L648.8 2142.9" stroke="#3eaac8"/>
<path d="M582.5 2130.0 L594.0 2187.5 M589.4 2173.6 L594.0 2187.5 L592.9 2172.9" stroke="#63bfc0"/>
<path d="M582.0 2129.0 L535.0 2214.0 M549.0 2180.6 L535.0 2214.0 L548.3 2197.6" stroke="#58b680"/>
<path d="M581.5 2129.0 L495.5 2232.6 M518.0 2194.5 L495.5 2232.6 L520.3 2213.0" stroke="#5cb548"/>
<path d="M505.6 2182 L489 2206" stroke="#6cb860"/>
<path d="M581.8 2130.2 L477.6 2241.0 M509.0 2201.8 L477.6 2241.0 L514.8 2207.3" stroke="#6eba34"/>
<path d="M581.6 2130.4 L466.8 2247.3 M501.7 2206.0 L466.8 2247.3 L507.5 2211.7" stroke="#82c032"/>
<path d="M581.4 2130.6 L455.9 2253.5 M494.4 2210.2 L455.9 2253.5 L500.0 2215.9" stroke="#a0ca30"/>
<path d="M581.1 2130.8 L443.5 2260.5 M486.0 2214.9 L443.5 2260.5 L491.6 2220.8" stroke="#c3d430"/>
<path d="M580.9 2131.1 L431.0 2267.5 M477.7 2219.6 L431.0 2267.5 L483.1 2225.5" stroke="#ded832"/>
<path d="M580.7 2131.3 L420.2 2273.7 M470.5 2223.9 L420.2 2273.7 L475.7 2229.7" stroke="#eed634"/>
<path d="M580.5 2131.5 L413.2 2278.4 M465.9 2227.2 L413.2 2278.4 L470.8 2232.7" stroke="#f2d438"/>
</g>
<use href="#blade" transform="translate(103.6,1268.6) scale(0.982,0.984)"/>
<rect x="383" y="2044" width="467.3" height="259.7" fill="none" stroke="#e6372c" stroke-width="3.2"/>
<path d="M509 1337.7 L600 1368" stroke="#111" stroke-width="2.2" fill="none"/>
<path d="M638 1381 L590 1350.8 L579 1378.5Z" fill="#111"/>
<path d="M349.0 1955.0C344.5 1953.9 330.8 1949.8 322.0 1948.5 C313.2 1947.2 306.3 1946.2 296.0 1947.0 C285.7 1947.8 272.3 1949.0 260.0 1953.0 C247.7 1957.0 234.3 1962.7 222.0 1971.0 C209.7 1979.3 195.2 1993.0 186.0 2003.0 C176.8 2013.0 172.2 2021.3 167.0 2031.0 C161.8 2040.7 158.1 2053.5 155.0 2061.0 C151.9 2068.5 149.6 2073.5 148.5 2076.0" stroke="#111" stroke-width="3" fill="none"/>
<path d="M133 2130 L131 2071 L159 2078Z" fill="#111"/>
<text x="337.5" y="1331.5" font-size="62.8" fill="#1c1a1a">转静交界面</text>
<text x="1151.0" y="1609.0" font-size="64" fill="#ffffff">叶片</text>
<text transform="translate(62.5,2090) rotate(-48.6)" font-size="61.5" fill="#1c1a1a">旋转端壁</text>
<text x="530.5" y="2295.5" font-size="62.8" fill="#1c1a1a">边界层扭曲</text>
<text x="1004.5" y="2317.0" font-size="62.8" fill="#1c1a1a">静止端壁</text>
<text x="493.5" y="2439.5" font-size="62.4" fill="#1c1a1a">(b) 端壁旋转工况</text>
</svg></body></html>
